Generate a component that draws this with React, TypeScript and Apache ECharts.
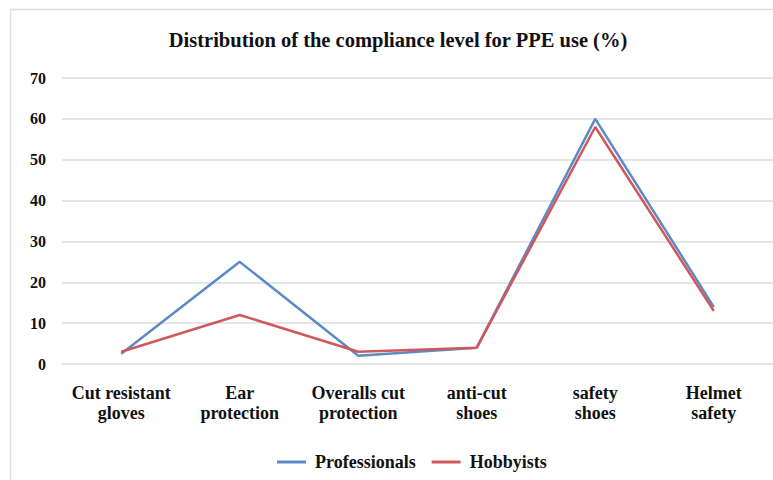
import React, { useEffect, useRef } from "react";
import * as echarts from "echarts";

const categories = [
  "Cut resistant\ngloves",
  "Ear\nprotection",
  "Overalls cut\nprotection",
  "anti-cut\nshoes",
  "safety\nshoes",
  "Helmet\nsafety",
];
const professionals = [2.5, 25, 2, 4, 60, 14];
const hobbyists = [3, 12, 3, 4, 58, 13];
const yTicks = [0, 10, 20, 30, 40, 50, 60, 70];

const FONT = "Liberation Serif";

export default function App() {
  const ref = useRef<HTMLDivElement>(null);
  useEffect(() => {
    document.body.style.margin = "0";
    const chart = echarts.init(ref.current!, null, { renderer: "svg" });
    chart.setOption({
      animation: false,
      backgroundColor: "#ffffff",
      title: {
        text: "Distribution of the compliance level for PPE use (%)",
        left: 393,
        textAlign: "center",
        top: 24,
        textStyle: { fontFamily: FONT, fontWeight: "bold", fontSize: 20.5, color: "#111" },
      },
      graphic: [
        {
          type: "rect",
          shape: { x: 10.5, y: 9.5, width: 800, height: 520 },
          style: { fill: "none", stroke: "#dedede", lineWidth: 1.5 },
          z: -1,
        },
      ],
      grid: { left: 62, right: -5, top: 78, bottom: 116, containLabel: false },
      xAxis: {
        type: "category",
        data: categories,
        boundaryGap: true,
        axisLine: { show: false },
        axisTick: { show: false },
        axisLabel: {
          fontFamily: FONT,
          fontWeight: "bold",
          fontSize: 18,
          color: "#111",
          margin: 19,
          lineHeight: 20,
          interval: 0,
        },
      },
      yAxis: {
        type: "value",
        min: yTicks[0],
        max: yTicks[yTicks.length - 1],
        interval: 10,
        axisLine: { show: false },
        axisTick: { show: false },
        splitLine: { lineStyle: { color: "#dcdcdc", width: 1.5 } },
        axisLabel: {
          fontFamily: FONT,
          fontWeight: "bold",
          fontSize: 16,
          color: "#111",
          margin: 16,
        },
      },
      legend: {
        bottom: 4,
        left: 272,
        icon: "rect",
        itemWidth: 29,
        itemHeight: 3,
        itemGap: 16,
        textStyle: {
          fontFamily: FONT,
          fontWeight: "bold",
          fontSize: 18,
          color: "#111",
          padding: [0, 0, 0, 4],
        },
        data: ["Professionals", "Hobbyists"],
      },
      series: [
        {
          name: "Professionals",
          type: "line",
          data: professionals,
          symbol: "none",
          lineStyle: { color: "#5b8ac4", width: 2.5 },
          itemStyle: { color: "#5b8ac4" },
        },
        {
          name: "Hobbyists",
          type: "line",
          data: hobbyists,
          symbol: "none",
          lineStyle: { color: "#d0585a", width: 2.5 },
          itemStyle: { color: "#d0585a" },
        },
      ],
    });
    return () => chart.dispose();
  }, []);
  return <div ref={ref} style={{ width: 773, height: 480 }} />;
}
